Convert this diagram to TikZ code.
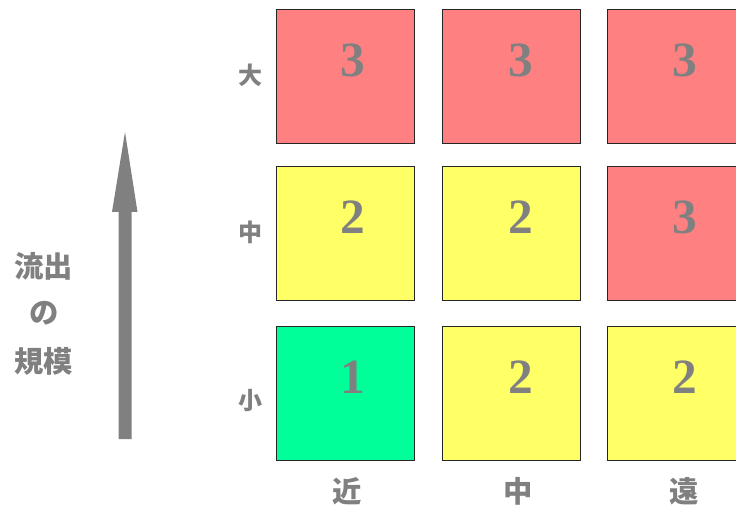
\documentclass[tikz,border=0pt]{standalone}
\usepackage{fontspec}
\setmainfont{Liberation Serif}
\newfontfamily\cjk{Noto Sans CJK JP}
\definecolor{txtgray}{HTML}{808080}
\definecolor{cred}{HTML}{FF8080}
\definecolor{cyel}{HTML}{FFFF66}
\definecolor{cgrn}{HTML}{00FF99}
\tikzset{
  cell/.style={draw=black!85, line width=0.9pt, minimum width=138*0.75pt, minimum height=134*0.75pt, inner sep=0pt, anchor=north west},
  num/.style={text=txtgray, font=\fontsize{37}{37}\selectfont\bfseries, inner sep=0pt},
  lbl/.style={text=txtgray, font=\cjk\bfseries\fontsize{18}{18}\selectfont, inner sep=0pt},
  biglbl/.style={text=txtgray, font=\cjk\bfseries\fontsize{22}{22}\selectfont, inner sep=0pt},
  bigarrow/.style={fill=txtgray, draw=none},
}
\begin{document}
\begin{tikzpicture}[x=0.75pt,y=-0.75pt]
\useasboundingbox (0,0) rectangle (736,506);
\clip (0,0) rectangle (736,506);
% row 1
\node[cell, fill=cred] (c11) at (276,9) {};
\node[cell, fill=cred] (c12) at (442,9) {};
\node[cell, fill=cred] (c13) at (607,9) {};
% row 2
\node[cell, fill=cyel] (c21) at (276,166) {};
\node[cell, fill=cyel] (c22) at (442,166) {};
\node[cell, fill=cred] (c23) at (607,166) {};
% row 3
\node[cell, fill=cgrn] (c31) at (276,326) {};
\node[cell, fill=cyel] (c32) at (442,326) {};
\node[cell, fill=cyel] (c33) at (607,326) {};
% numbers
\node[num] (n11) at (353,60) {3};
\node[num] (n12) at (521,60) {3};
\node[num] (n13) at (685,60) {3};
\node[num] (n21) at (353,217) {2};
\node[num] (n22) at (521,217) {2};
\node[num] (n23) at (685,217) {3};
\node[num] (n31) at (353,377) {1};
\node[num] (n32) at (521,377) {2};
\node[num] (n33) at (685,377) {2};
% row labels
\node[lbl] (r1) at (250,75) {大};
\node[lbl] (r2) at (250,232) {中};
\node[lbl] (r3) at (250,401) {小};
% column labels
\node[biglbl] (k1) at (347,491) {近};
\node[biglbl] (k2) at (518,491) {中};
\node[biglbl] (k3) at (684,491) {遠};
% axis label
\node[biglbl] (a1) at (44,266) {流出};
\node[biglbl] (a2) at (44,313) {の};
\node[biglbl] (a3) at (44,361) {規模};
% arrow
\fill[bigarrow] (118.5,439) -- (118.5,212) -- (112,212) -- (125,132) -- (137.5,212) -- (131.5,212) -- (131.5,439) -- cycle;
\end{tikzpicture}
\end{document}
